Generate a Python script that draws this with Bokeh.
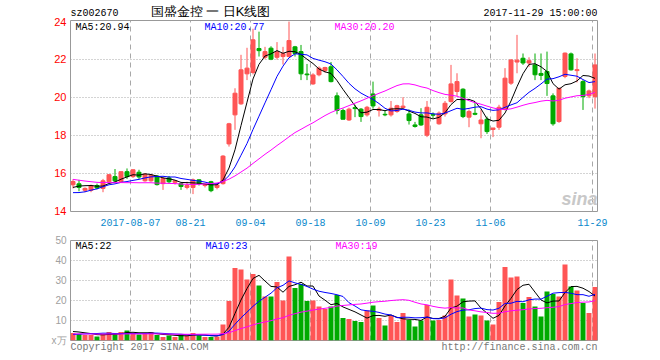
import numpy as np
from bokeh.plotting import figure
from bokeh.models import ColumnDataSource, FixedTicker, Label, Range1d
from bokeh.layouts import column
from bokeh.embed import file_html
from bokeh.resources import INLINE

# ---------------- data ----------------
opens = [15.39, 15.44, 15.10, 15.10, 15.35, 15.20, 15.55, 15.82, 15.55, 16.08,
         15.82, 16.05, 15.60, 15.60, 15.85, 15.45, 15.75, 15.52, 15.45, 15.25,
         15.25, 15.65, 15.35, 15.55, 15.25, 15.45, 17.54, 19.07, 19.65, 21.23,
         21.30, 22.56, 22.10, 22.58, 22.10, 22.14, 22.14, 22.65, 22.40, 21.22,
         20.70, 21.18, 21.40, 21.60, 20.07, 19.30, 18.80, 19.45, 19.37, 19.07,
         20.17, 19.30, 19.10, 19.07, 19.25, 19.45, 19.12, 18.54, 19.07, 18.00,
         19.10, 18.60, 19.12, 19.77, 20.30, 20.42, 18.95, 19.15, 18.60, 18.84,
         18.30, 18.42, 19.37, 20.74, 21.85, 22.05, 21.80, 21.70, 21.25, 21.35,
         20.07, 18.72, 21.09, 22.28, 21.40, 20.82, 20.07, 20.03]
highs = [15.68, 15.65, 15.25, 15.40, 15.45, 15.70, 15.95, 16.22, 16.10, 16.25,
         16.20, 16.18, 16.00, 15.95, 15.90, 15.80, 15.85, 15.62, 15.50, 15.55,
         15.72, 15.68, 15.45, 15.60, 15.45, 16.95, 18.65, 20.47, 22.23, 22.60,
         23.60, 23.45, 22.65, 22.68, 22.90, 22.65, 23.98, 22.70, 22.75, 21.75,
         21.26, 21.62, 21.60, 21.85, 20.25, 19.40, 19.45, 19.60, 19.43, 19.54,
         20.82, 19.50, 19.30, 19.80, 19.60, 20.00, 19.35, 18.70, 19.42, 19.80,
         19.20, 19.25, 19.80, 21.70, 21.26, 20.47, 19.35, 19.70, 19.35, 18.98,
         18.35, 19.60, 21.53, 22.00, 23.28, 22.30, 22.10, 22.30, 22.30, 22.40,
         20.20, 20.50, 22.35, 22.35, 22.05, 20.90, 20.40, 22.30]
lows = [15.20, 15.05, 15.00, 15.00, 15.15, 15.00, 15.50, 15.50, 15.50, 15.70,
        15.75, 15.70, 15.55, 15.55, 15.35, 15.12, 15.45, 15.40, 15.12, 15.15,
        14.90, 15.35, 15.25, 15.00, 15.15, 15.40, 17.40, 18.28, 19.60, 20.90,
        21.20, 22.14, 22.00, 21.95, 21.98, 21.72, 22.10, 22.14, 20.90, 20.90,
        20.65, 21.10, 21.30, 20.78, 19.10, 18.84, 18.75, 18.95, 18.70, 18.98,
        19.40, 18.98, 19.00, 18.98, 19.18, 19.40, 18.56, 18.40, 18.49, 17.90,
        18.90, 18.55, 18.98, 19.72, 20.07, 18.90, 18.42, 19.05, 17.84, 18.07,
        17.90, 18.28, 19.30, 20.65, 21.26, 21.70, 21.60, 20.90, 20.90, 20.07,
        18.50, 18.65, 21.00, 21.40, 20.78, 19.33, 19.95, 19.40]
closes = [15.56, 15.25, 15.20, 15.35, 15.22, 15.60, 15.92, 15.60, 16.08, 15.82,
          16.18, 15.80, 15.95, 15.90, 15.40, 15.72, 15.55, 15.60, 15.30, 15.35,
          15.65, 15.45, 15.40, 15.08, 15.38, 16.90, 18.60, 20.21, 21.44, 21.53,
          23.02, 22.45, 22.40, 22.00, 22.40, 22.30, 22.98, 22.30, 21.23, 21.18,
          21.17, 21.53, 21.56, 20.82, 19.30, 18.84, 19.37, 19.40, 18.98, 19.47,
          19.54, 19.38, 19.07, 19.42, 19.55, 19.53, 18.77, 18.46, 18.54, 19.47,
          19.05, 19.16, 19.68, 20.70, 20.82, 18.98, 19.25, 19.10, 18.80, 18.19,
          18.38, 19.47, 21.00, 21.96, 21.95, 21.80, 21.92, 21.18, 21.15, 20.72,
          18.60, 20.47, 22.32, 21.44, 21.45, 20.03, 20.33, 21.70]
volumes = [3.7, 3.3, 2.8, 2.8, 2.0, 3.3, 4.2, 3.3, 4.2, 5.0,
           3.8, 3.0, 3.3, 4.2, 2.8, 1.7, 2.5, 1.7, 3.3, 2.5,
           3.7, 2.5, 1.7, 1.7, 2.0, 8.0, 19.7, 36.2, 35.5, 30.5,
           33.2, 27.5, 22.0, 22.0, 29.2, 20.0, 42.0, 26.2, 28.3, 19.7,
           20.0, 17.0, 15.8, 17.0, 22.8, 11.3, 10.8, 9.7, 9.2, 15.0,
           17.5, 11.3, 7.5, 12.5, 9.2, 13.7, 10.3, 7.0, 10.0, 17.8,
           10.0, 10.3, 12.5, 30.5, 22.5, 21.0, 12.0, 13.0, 12.5, 10.0,
           8.0, 19.2, 36.7, 31.5, 32.0, 18.7, 21.7, 17.0, 12.0, 24.5,
           23.3, 22.0, 38.0, 27.0, 25.0, 18.7, 13.7, 26.7]
# sessions before the first visible one (only feed the moving averages)
prior_closes = [16.6, 16.5, 16.4, 16.2, 16.0, 15.9, 15.8, 15.9, 16.0, 16.1,
                16.0, 15.9, 15.9, 16.0, 15.9, 15.8, 15.9, 16.0, 15.9, 15.8,
                15.2, 14.8, 14.5, 14.5, 14.5, 14.9, 15.1, 15.3, 15.4]
prior_volumes = [3.5, 3.4, 3.6, 3.2, 3.5, 3.3, 3.6, 3.4, 3.5, 3.4,
                 3.5, 3.3, 3.6, 3.4, 3.5, 3.4, 3.5, 3.4, 3.5, 3.5,
                 1.6, 1.4, 1.5, 1.5, 1.5, 4.6, 4.8, 4.7, 4.7]

tick_index = [10, 20, 30, 40, 50, 60, 70, 87]
tick_labels = ["2017-08-07", "08-21", "09-04", "09-18", "10-09", "10-23", "11-06", "11-29"]
price_ticks = [14, 16, 18, 20, 22, 24]
price_grid = [16, 18, 20, 22]
vol_ticks = [0, 10, 20, 30, 40, 50]
vol_grid = [10, 20, 30, 40]

stock_code = "sz002670"
chart_title = "国盛金控 一 日K线图"
stamp = "2017-11-29 15:00:00"
price_ma_text = ["MA5:20.94", "MA10:20.77", "MA30:20.20"]
vol_ma_text = ["MA5:22", "MA10:23", "MA30:19"]
footer_left = "Copyright 2017 SINA.COM"
footer_right = "http://finance.sina.com.cn"

# ---------------- styles / layout ----------------
UP = "#ff5555"
DOWN = "#00aa00"
MA_COLORS = ["#000000", "#0000ff", "#ff00ff"]
GRID = "#a8a8a8"
MONO = "Liberation Mono"
W = 610
LEFT, RIGHT = 70, 13          # frame spans page x 70..597
PX_PER_BAR = 6
HALF = 5 / 12                 # half a bar slot in data units


def moving_average(values, history, n):
    full = list(history) + list(values)
    k = len(history)
    return [float(np.mean(full[k + i - n + 1:k + i + 1])) for i in range(len(values))]


n = len(closes)
idx = list(range(n))
up = [c >= o for o, c in zip(opens, closes)]
colors = [UP if u else DOWN for u in up]

src = ColumnDataSource(dict(
    x=idx, open=opens, high=highs, low=lows, close=closes, vol=volumes,
    top=[max(o, c) for o, c in zip(opens, closes)],
    bot=[min(o, c) for o, c in zip(opens, closes)],
    color=colors,
    ma5=moving_average(closes, prior_closes, 5),
    ma10=moving_average(closes, prior_closes, 10),
    ma30=moving_average(closes, prior_closes, 30),
    vma5=moving_average(volumes, prior_volumes, 5),
    vma10=moving_average(volumes, prior_volumes, 10),
    vma30=moving_average(volumes, prior_volumes, 30),
))

tick_pos = [i - HALF for i in tick_index]
x_range = Range1d(-HALF, n - 1 + HALF)


def px_x(x):
    return -HALF + (x - LEFT) / PX_PER_BAR


P_TOP, P_PX = 20, 19.0
P_START = 13.984
P_END = P_START + 191 / P_PX


def px_y_price(y):
    return P_END - (y - P_TOP) / P_PX


def px_y_vol(y):
    return 50 - (y - 240) / 2.0


def add_label(p, text, x, y, color="#000000", size="10px", font=MONO, align="left",
              style_="normal"):
    p.add_layout(Label(x=x, y=y, text=text, text_color=color, text_font=font,
                       text_font_size=size, text_align=align, text_baseline="middle",
                       text_font_style=style_))


def style(p):
    p.outline_line_color = "#999999"
    p.outline_line_width = 1
    p.background_fill_color = "white"
    p.border_fill_color = "white"
    p.xgrid.ticker = FixedTicker(ticks=tick_pos)
    p.xgrid.grid_line_color = GRID
    p.xgrid.grid_line_dash = "5 4"
    p.ygrid.grid_line_color = GRID
    p.ygrid.grid_line_dash = "1 2"
    for ax in p.axis:
        ax.major_tick_line_color = None
        ax.minor_tick_line_color = None
        ax.major_tick_out = 0
        ax.major_tick_in = 0
        ax.minor_tick_out = 0
        ax.axis_line_color = None


# ---------------- header strip (y in page pixels, x aligned with the frames) ----------------
HEAD_H = 17
head = figure(width=W, height=HEAD_H, x_range=x_range, y_range=Range1d(HEAD_H, 0),
              output_backend="svg", toolbar_location=None,
              min_border_left=LEFT, min_border_right=RIGHT, min_border_top=0, min_border_bottom=0)
head.axis.visible = False
head.grid.visible = False
head.outline_line_color = None
add_label(head, stock_code, px_x(70), 12.5)
# Latin primary face keeps the line box compact; the CJK glyphs come from the CJK fallback
add_label(head, chart_title, px_x(150), 10.5, size="13px", font="Liberation Sans")
add_label(head, stamp, px_x(597), 12.5, align="right")

# ---------------- price panel ----------------
p1 = figure(width=W, height=232 - HEAD_H, x_range=x_range, y_range=Range1d(P_START, P_END),
            output_backend="svg", toolbar_location=None,
            min_border_left=LEFT, min_border_right=RIGHT, min_border_top=P_TOP - HEAD_H,
            min_border_bottom=21)
p1.ygrid.ticker = FixedTicker(ticks=price_grid)
p1.xaxis.ticker = FixedTicker(ticks=tick_pos)
p1.xaxis.major_label_overrides = {t: l for t, l in zip(tick_pos, tick_labels)}
p1.xaxis.major_label_text_color = "#0a88cc"
p1.xaxis.major_label_text_font = MONO
p1.xaxis.major_label_text_font_size = "10px"
p1.xaxis.major_label_standoff = 7
p1.yaxis.ticker = FixedTicker(ticks=price_ticks)
p1.yaxis.major_label_text_color = "#ff0000"
p1.yaxis.major_label_text_font = "Liberation Sans"
p1.yaxis.major_label_text_font_size = "11px"
p1.yaxis.major_label_standoff = 4
style(p1)

add_label(p1, "sina", px_x(597), px_y_price(198), color="#c8c8c8", size="18px",
          font="Liberation Sans", align="right", style_="bold italic")
p1.segment(x0="x", y0="low", x1="x", y1="high", source=src, line_color="color", line_width=1)
p1.vbar(x="x", width=4 / 6, top="top", bottom="bot", source=src,
        fill_color="color", line_color="color", line_width=1)
for key, c in zip(["ma5", "ma10", "ma30"], MA_COLORS):
    p1.line(x="x", y=key, source=src, line_color=c, line_width=1)
for t, xpx, c in zip(price_ma_text, [75, 204, 334], MA_COLORS):
    add_label(p1, t, px_x(xpx), px_y_price(26.5), color=c)

# ---------------- volume panel ----------------
p2 = figure(width=W, height=128, x_range=x_range, y_range=Range1d(0, 50),
            output_backend="svg", toolbar_location=None,
            min_border_left=LEFT, min_border_right=RIGHT, min_border_top=8, min_border_bottom=20)
p2.ygrid.ticker = FixedTicker(ticks=vol_grid)
p2.yaxis.ticker = FixedTicker(ticks=vol_ticks)
p2.yaxis.major_label_overrides = {0: "x万"}
p2.yaxis.major_label_text_color = "#a0a0a0"
p2.yaxis.major_label_text_font = "Liberation Sans"
p2.yaxis.major_label_text_font_size = "10px"
p2.yaxis.major_label_standoff = 4
foot_pos = [px_x(70 + 3 * len(footer_left)), px_x(597 - 3 * len(footer_right))]
p2.xaxis.ticker = FixedTicker(ticks=foot_pos)
p2.xaxis.major_label_overrides = {foot_pos[0]: footer_left, foot_pos[1]: footer_right}
p2.xaxis.major_label_text_color = "#777777"
p2.xaxis.major_label_text_font = MONO
p2.xaxis.major_label_text_font_size = "10px"
p2.xaxis.major_label_standoff = 1
style(p2)
p2.xgrid.ticker = FixedTicker(ticks=tick_pos)

p2.vbar(x="x", width=5 / 6, top="vol", bottom=0, source=src,
        fill_color="color", line_color=None)
for key, c in zip(["vma5", "vma10", "vma30"], MA_COLORS):
    p2.line(x="x", y=key, source=src, line_color=c, line_width=1)
for t, xpx, c in zip(vol_ma_text, [75, 205, 335], MA_COLORS):
    add_label(p2, t, px_x(xpx), px_y_vol(246), color=c)

layout = column(head, p1, p2)
open("out.html", "w").write(file_html(layout, INLINE))
